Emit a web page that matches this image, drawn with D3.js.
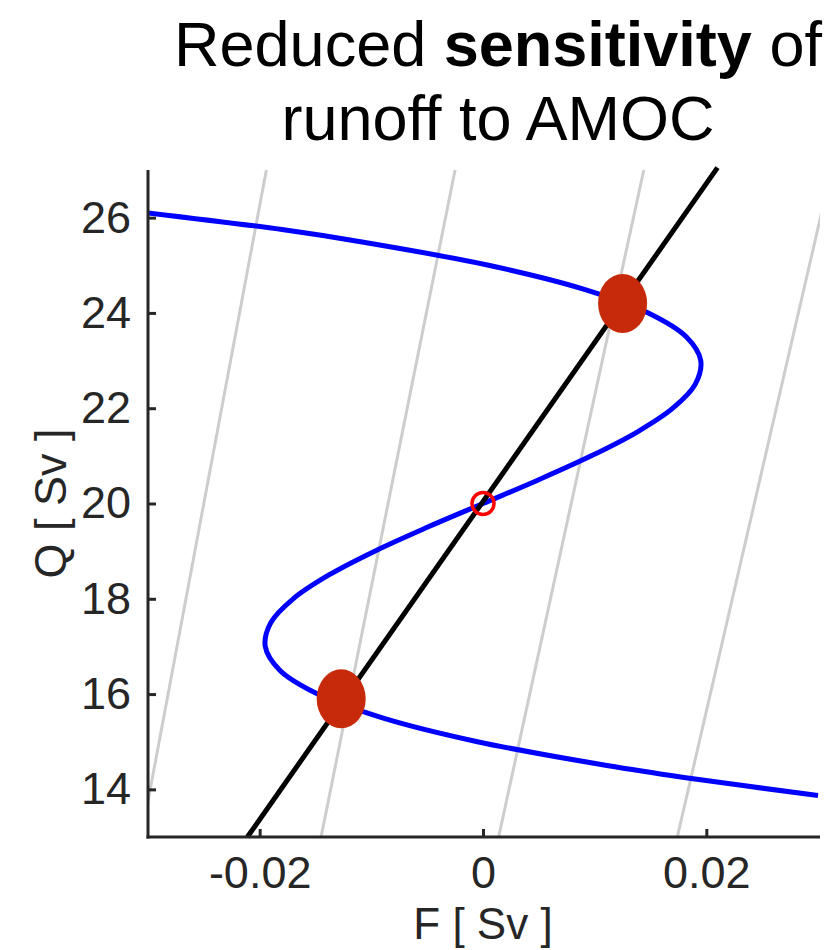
<!DOCTYPE html>
<html>
<head>
<meta charset="utf-8">
<script src="https://cdn.jsdelivr.net/npm/d3@7"></script>
<style>
  html, body { margin: 0; padding: 0; background: #fff; }
  svg { display: block; }
  text { font-family: "Liberation Sans", Arial, Helvetica, sans-serif; fill: #262626; }
</style>
</head>
<body>
<script>
// ---- data ----
const xTicks = [-0.02, 0, 0.02];
const xTickLabels = ["-0.02", "0", "0.02"];
const yTicks = [14, 16, 18, 20, 22, 24, 26];
const yTickLabels = ["14", "16", "18", "20", "22", "24", "26"];

// blue S-curve: Q values and the F read at each
const curveQ = [26.1, 25.75, 25.5, 25.0, 24.5, 24.0, 23.5, 23.0, 22.5, 22.0, 21.5, 21.0, 20.5, 20.0,
                19.5, 19.0, 18.5, 18.0, 17.5, 17.0, 16.5, 16.0, 15.5, 15.0, 14.5, 14.25, 13.87];
const curveF = [-0.0300, -0.0180, -0.0111, 0.0005, 0.0090, 0.0148, 0.0182, 0.0195, 0.0190, 0.0170, 0.0138, 0.0097, 0.0050, 0.0,
                -0.0050, -0.0097, -0.0138, -0.0170, -0.0190, -0.0195, -0.0182, -0.0148, -0.0090, -0.0005, 0.0111, 0.0180, 0.0300];

// black straight line endpoints (F, Q)
const blackF = [-0.0211, 0.0210];
const blackQ = [13, 27.05];

// gray background lines: F at Q=13 and F at Q=27
const grayBottomF = [-0.0306, -0.0145, 0.0014, 0.0174];
const grayTopF = [-0.0194, -0.0025, 0.0144, 0.0312];
const grayQ = [13, 27];

// equilibrium markers
const stableF = [0.0125, -0.0127];
const stableQ = [24.2, 15.9];
const unstableF = [0.0];
const unstableQ = [20.0];

// ---- drawing ----
const W = 840, H = 950;
const svg = d3.select("body").append("svg").attr("width", W).attr("height", H);

const pLeft = 148, pRight = 818, pTop = 170, pBottom = 837;
const x = d3.scaleLinear().domain([-0.03, 0.03]).range([pLeft, pRight]);
const y = d3.scaleLinear().domain([13, 27]).range([pBottom, pTop]);

svg.append("defs").append("clipPath").attr("id", "plotclip")
  .append("rect").attr("x", pLeft).attr("y", pTop - 4).attr("width", pRight - pLeft + 2).attr("height", pBottom - pTop + 4);

const plot = svg.append("g").attr("clip-path", "url(#plotclip)");

// gray lines
grayBottomF.forEach((fb, i) => {
  plot.append("line")
    .attr("x1", x(fb)).attr("y1", y(grayQ[0]))
    .attr("x2", x(grayTopF[i])).attr("y2", y(grayQ[1]))
    .attr("stroke", "#cdcdcd").attr("stroke-width", 3);
});

// blue curve
const curvePts = curveQ.map((q, i) => [curveF[i], q]);
plot.append("path")
  .datum(curvePts)
  .attr("d", d3.line().x(d => x(d[0])).y(d => y(d[1])).curve(d3.curveCatmullRom.alpha(0.5)))
  .attr("fill", "none").attr("stroke", "#0000ff").attr("stroke-width", 5);

// black line
svg.append("line")
  .attr("x1", x(blackF[0])).attr("y1", y(blackQ[0]))
  .attr("x2", x(blackF[1])).attr("y2", y(blackQ[1]))
  .attr("stroke", "#000").attr("stroke-width", 5);

// axes
const axisColor = "#262626";
const yAxis = svg.append("g").attr("transform", `translate(${pLeft},0)`)
  .call(d3.axisLeft(y).tickValues(yTicks).tickSize(-8).tickSizeOuter(0).tickFormat((d, i) => yTickLabels[i]).tickPadding(17));
const xAxis = svg.append("g").attr("transform", `translate(0,${pBottom})`)
  .call(d3.axisBottom(x).tickValues(xTicks).tickSize(-8).tickSizeOuter(0).tickFormat((d, i) => xTickLabels[i]).tickPadding(19));
[xAxis, yAxis].forEach(a => {
  a.select(".domain").attr("stroke", axisColor).attr("stroke-width", 3);
  a.selectAll(".tick line").attr("stroke", axisColor).attr("stroke-width", 3);
  a.selectAll(".tick text").attr("font-size", 45).attr("font-family", '"Liberation Sans", Arial, sans-serif').attr("fill", axisColor);
});
yAxis.select(".domain").attr("d", `M0,${pTop}V${pBottom + 1.5}`);
xAxis.select(".domain").attr("d", `M${pLeft - 1.5},0H${pRight + 2}`);

// markers
stableF.forEach((f, i) => {
  svg.append("ellipse")
    .attr("cx", x(f)).attr("cy", y(stableQ[i]))
    .attr("rx", 24.5).attr("ry", 29.5)
    .attr("fill", "#c62a0a");
});
unstableF.forEach((f, i) => {
  svg.append("circle")
    .attr("cx", x(f)).attr("cy", y(unstableQ[i]))
    .attr("r", 11)
    .attr("fill", "none").attr("stroke", "#ff0000").attr("stroke-width", 3.5);
});

// axis labels
svg.append("text")
  .attr("x", x(0)).attr("y", 939)
  .attr("text-anchor", "middle").attr("font-size", 44)
  .text("F [ Sv ]");
svg.append("text")
  .attr("transform", `translate(66,${y(20)}) rotate(-90)`)
  .attr("text-anchor", "middle").attr("font-size", 45)
  .text("Q [ Sv ]");

// title
const title = svg.append("text")
  .attr("x", 498).attr("y", 66)
  .attr("text-anchor", "middle").attr("font-size", 63)
  .style("fill", "#000");
title.append("tspan").text("Reduced ");
title.append("tspan").attr("font-weight", "bold").text("sensitivity");
title.append("tspan").text(" of");
svg.append("text")
  .attr("x", 498).attr("y", 140)
  .attr("text-anchor", "middle").attr("font-size", 63)
  .style("fill", "#000")
  .text("runoff to AMOC");
</script>
</body>
</html>
